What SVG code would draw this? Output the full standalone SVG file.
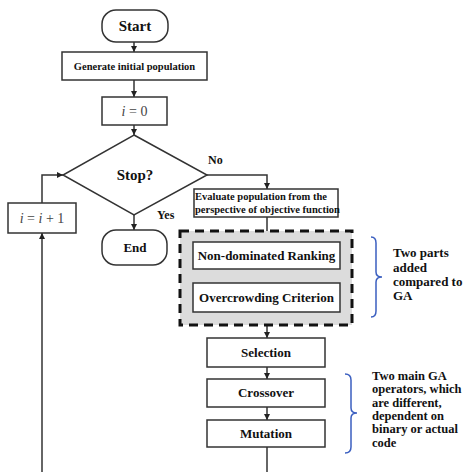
<svg xmlns="http://www.w3.org/2000/svg" width="465" height="472" viewBox="0 0 465 472">
<defs>
<marker id="ah" viewBox="0 0 10 10" refX="10" refY="5" markerWidth="6" markerHeight="6" orient="auto" markerUnits="userSpaceOnUse">
<path d="M0,0 L10,5 L0,10 z" fill="#222"/>
</marker>
<style>
.box{fill:#fff;stroke:#333;stroke-width:1.5}
.t{font-family:"Liberation Serif",serif;font-weight:bold;fill:#111;text-anchor:middle}
.m{font-family:"Liberation Serif",serif;fill:#444;text-anchor:middle}
.n{font-family:"Liberation Serif",serif;font-weight:bold;fill:#111}
.c{fill:none;stroke:#333;stroke-width:1.5}
.br{fill:none;stroke:#3b5fc0;stroke-width:1.5}
</style>
</defs>
<g id="connectors">
<line class="c" x1="134" y1="42" x2="134" y2="52" marker-end="url(#ah)"/>
<line class="c" x1="134" y1="80" x2="134" y2="97" marker-end="url(#ah)"/>
<line class="c" x1="134" y1="125" x2="134" y2="135" marker-end="url(#ah)"/>
<line class="c" x1="134" y1="215" x2="134" y2="230" marker-end="url(#ah)"/>
<polyline class="c" points="207,175 267,175 267,189" marker-end="url(#ah)"/>
<line class="c" x1="267" y1="217" x2="267" y2="242" marker-end="url(#ah)"/>
<line class="c" x1="267" y1="269" x2="267" y2="283" marker-end="url(#ah)"/>
<line class="c" x1="267" y1="312" x2="267" y2="338" marker-end="url(#ah)"/>
<line class="c" x1="267" y1="367" x2="267" y2="379" marker-end="url(#ah)"/>
<line class="c" x1="267" y1="407" x2="267" y2="420" marker-end="url(#ah)"/>
<line class="c" x1="267" y1="447" x2="267" y2="472"/>
<line class="c" x1="42" y1="472" x2="42" y2="233" marker-end="url(#ah)" stroke="#777"/>
<polyline class="c" points="42,203 42,175 63,175" marker-end="url(#ah)"/>
</g>
<g id="start">
<rect class="box" x="102" y="10" width="66" height="32" rx="14"/>
<text class="t" x="135" y="31" font-size="15">Start</text>
</g>
<g id="generate">
<rect class="box" x="62" y="52" width="145" height="28"/>
<text class="t" x="134.5" y="70" font-size="10.5">Generate initial population</text>
</g>
<g id="init">
<rect class="box" x="102" y="97" width="65" height="28"/>
<text class="m" x="134.5" y="116" font-size="14"><tspan font-style="italic">i</tspan> = 0</text>
</g>
<g id="stop">
<polygon class="box" points="134,135 207,175 134,215 63,175"/>
<text class="t" x="135" y="180" font-size="15">Stop?</text>
<text class="n" x="208" y="164" font-size="12">No</text>
<text class="n" x="157" y="219" font-size="12">Yes</text>
</g>
<g id="end">
<rect class="box" x="102" y="230" width="65" height="35" rx="14"/>
<text class="t" x="135" y="252" font-size="13">End</text>
</g>
<g id="incr">
<rect class="box" x="8" y="203" width="68" height="30"/>
<text class="m" x="42" y="223" font-size="14"><tspan font-style="italic">i</tspan> = <tspan font-style="italic">i</tspan> + 1</text>
</g>
<g id="evaluate">
<rect class="box" x="194" y="189" width="144" height="28"/>
<text class="n" x="195" y="200" font-size="10.5">Evaluate population from the</text>
<text class="n" x="195" y="213" font-size="10.5">perspective of objective function</text>
</g>
<g id="added">
<rect x="180" y="231" width="172" height="94" fill="#dcdcdc" stroke="#111" stroke-width="3" stroke-dasharray="9,6"/>
</g>
<g id="ranking">
<rect class="box" x="193" y="242" width="147" height="27"/>
<text class="t" x="266.5" y="260" font-size="13">Non-dominated Ranking</text>
</g>
<g id="crowding">
<rect class="box" x="193" y="283" width="147" height="29"/>
<text class="t" x="266.5" y="302" font-size="13">Overcrowding Criterion</text>
</g>
<g id="selection">
<rect class="box" x="207" y="338" width="118" height="29"/>
<text class="t" x="266" y="357" font-size="13">Selection</text>
</g>
<g id="crossover">
<rect class="box" x="207" y="379" width="118" height="28"/>
<text class="t" x="266" y="397" font-size="13">Crossover</text>
</g>
<g id="mutation">
<rect class="box" x="207" y="420" width="118" height="27"/>
<text class="t" x="266" y="438" font-size="13">Mutation</text>
</g>
<g id="note1">
<path class="br" d="M371,237 Q376,237 376,243 L376,272 Q376,277 382,277 Q376,277 376,282 L376,311 Q376,317 371,317"/>
<text class="n" x="393" y="257" font-size="13">Two parts</text>
<text class="n" x="393" y="272" font-size="13">added</text>
<text class="n" x="393" y="286" font-size="13">compared to</text>
<text class="n" x="393" y="300" font-size="13">GA</text>
</g>
<g id="note2">
<path class="br" d="M345,374 Q351,374 351,380 L351,408 Q351,413 357,413 Q351,413 351,418 L351,447 Q351,453 345,453"/>
<text class="n" x="372" y="380" font-size="12.5">Two main GA</text>
<text class="n" x="372" y="393.3" font-size="12.5">operators, which</text>
<text class="n" x="372" y="406.6" font-size="12.5">are different,</text>
<text class="n" x="372" y="420" font-size="12.5">dependent on</text>
<text class="n" x="372" y="433.3" font-size="12.5">binary or actual</text>
<text class="n" x="372" y="446.6" font-size="12.5">code</text>
</g>
</svg>
